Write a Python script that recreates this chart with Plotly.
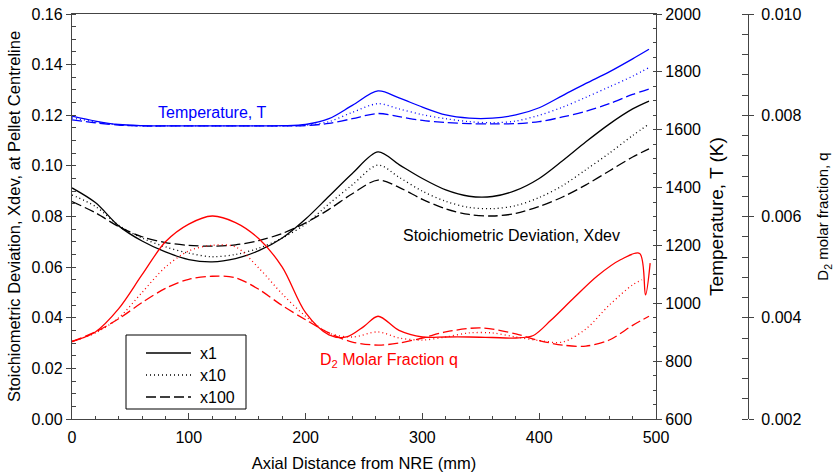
import plotly.graph_objects as go

# ---------------- data ----------------
# Temperature (K), right axis
t_x = [0, 20, 40, 60, 80, 100, 120, 140, 160, 180, 200, 220, 240, 262, 280, 300, 320, 340, 360, 380, 400, 420, 440, 460, 480, 494]
t_x1 = [1647, 1630, 1618, 1614, 1613, 1613, 1613, 1613, 1613, 1614, 1618, 1638, 1684, 1734, 1710, 1678, 1651, 1640, 1640, 1651, 1676, 1718, 1760, 1800, 1845, 1878]
t_x10 = [1641, 1627, 1617, 1613, 1613, 1613, 1613, 1613, 1613, 1613, 1615, 1628, 1660, 1690, 1672, 1652, 1638, 1628, 1624, 1630, 1650, 1678, 1712, 1748, 1785, 1815]
t_x100 = [1634, 1624, 1616, 1613, 1613, 1613, 1613, 1613, 1613, 1613, 1614, 1622, 1638, 1656, 1645, 1632, 1625, 1621, 1620, 1621, 1628, 1644, 1664, 1690, 1722, 1741]

# Stoichiometric deviation, left axis
xd_x = [0, 20, 40, 60, 80, 100, 120, 140, 160, 180, 200, 220, 240, 262, 280, 300, 320, 340, 360, 380, 400, 420, 440, 460, 480, 494]
xd_x1 = [0.0913, 0.0855, 0.0763, 0.0703, 0.0660, 0.0630, 0.0621, 0.0634, 0.0665, 0.0715, 0.0790, 0.0880, 0.0970, 0.1055, 0.1005, 0.0950, 0.0905, 0.0880, 0.0879, 0.0903, 0.0950, 0.1020, 0.1095, 0.1165, 0.1225, 0.1256]
xd_x10 = [0.0885, 0.0840, 0.0765, 0.0715, 0.0680, 0.0655, 0.0641, 0.0650, 0.0675, 0.0715, 0.0770, 0.0850, 0.0925, 0.1003, 0.0955, 0.0900, 0.0860, 0.0836, 0.0831, 0.0843, 0.0875, 0.0922, 0.0985, 0.1050, 0.1120, 0.1165]
xd_x100 = [0.0859, 0.0815, 0.0760, 0.0720, 0.0697, 0.0686, 0.0683, 0.0688, 0.0705, 0.0733, 0.0775, 0.0828, 0.0890, 0.0944, 0.0915, 0.0868, 0.0830, 0.0808, 0.0802, 0.0812, 0.0840, 0.0877, 0.0925, 0.0980, 0.1035, 0.1067]

# D2 molar fraction, third axis
q1_x = [0, 20, 40, 60, 80, 100, 120, 140, 160, 180, 200, 220, 235, 250, 262, 280, 300, 320, 340, 360, 380, 395, 410, 430, 450, 470, 486, 491, 495]
q1 = [0.00353, 0.00372, 0.00418, 0.00485, 0.00550, 0.00585, 0.00601, 0.00588, 0.00556, 0.00500, 0.00410, 0.00366, 0.00362, 0.00383, 0.00403, 0.00375, 0.00362, 0.00362, 0.00362, 0.00361, 0.00360, 0.00365, 0.00395, 0.00440, 0.00483, 0.00515, 0.00527, 0.00445, 0.00508]
q10_x = [0, 20, 40, 60, 80, 100, 120, 140, 160, 180, 200, 220, 240, 262, 280, 300, 320, 340, 360, 380, 400, 420, 440, 460, 480, 488]
q10 = [0.00353, 0.00370, 0.00400, 0.00450, 0.00500, 0.00532, 0.00543, 0.00540, 0.00498, 0.00447, 0.00403, 0.00370, 0.00362, 0.00372, 0.00360, 0.00356, 0.00362, 0.00370, 0.00370, 0.00362, 0.00355, 0.00352, 0.00378, 0.00425, 0.00465, 0.00475]
q100_x = [0, 20, 40, 60, 80, 100, 120, 140, 160, 180, 200, 220, 240, 262, 280, 300, 320, 350, 380, 400, 420, 440, 460, 480, 494]
q100 = [0.00353, 0.00372, 0.00398, 0.00430, 0.00458, 0.00476, 0.00482, 0.00479, 0.00456, 0.00424, 0.00396, 0.00370, 0.00352, 0.00346, 0.00350, 0.00360, 0.00372, 0.00380, 0.00368, 0.00355, 0.00346, 0.00344, 0.00356, 0.00385, 0.00403]

legend_names = ["x1", "x10", "x100"]

# ---------------- styles ----------------
DASHES = ["solid", "1px,3px", "10px,4px"]
FONT = "Liberation Sans, Arial, Helvetica, sans-serif"
LW = 1.3

fig = go.Figure()

def add(xs, ys, color, dash, yaxis):
    fig.add_trace(go.Scatter(x=xs, y=ys, mode="lines", yaxis=yaxis, showlegend=False,
                             line=dict(color=color, width=LW, dash=dash, shape="spline", smoothing=0.9),
                             hoverinfo="skip"))

for ys, d in zip([t_x1, t_x10, t_x100], DASHES):
    add(t_x, ys, "#0000ff", d, "y2")
for ys, d in zip([xd_x1, xd_x10, xd_x100], DASHES):
    add(xd_x, ys, "#000000", d, "y")
for xs, ys, d in zip([q1_x, q10_x, q100_x], [q1, q10, q100], DASHES):
    add(xs, ys, "#ff0000", d, "y3")

AX = "#444444"
L, R, T, B = 72, 87, 14, 53
W, H = 835, 472
plot_w = W - L - R
plot_h = H - T - B
xdom_end = 584 / plot_w

def px(xpix):
    return (xpix - L) / plot_w

def py(ypix):
    return (H - B - ypix) / plot_h

# legend box (drawn as a keyed box in paper space)
shapes = [dict(type="rect", xref="paper", yref="paper", x0=px(126), x1=px(246), y0=py(409), y1=py(335),
               line=dict(color="black", width=1), fillcolor="white", layer="above")]
annotations = []
for i, (name, d) in enumerate(zip(legend_names, DASHES)):
    yy = py(353 + 22 * i)
    shapes.append(dict(type="line", xref="paper", yref="paper", x0=px(146), x1=px(191), y0=yy, y1=yy,
                       line=dict(color="black", width=LW, dash=d), layer="above"))
    annotations.append(dict(text=name, x=px(198), y=yy, xref="paper", yref="paper", xanchor="left",
                            yanchor="middle", showarrow=False, font=dict(size=16, color="black")))

annotations += [
    dict(text="Temperature, T", x=120, y=0.1209, xref="x", yref="y", showarrow=False,
         font=dict(color="#0000ff", size=16)),
    dict(text="Stoichiometric Deviation, Xdev", x=376, y=0.0723, xref="x", yref="y", showarrow=False,
         font=dict(color="black", size=16)),
    dict(text="D<sub>2</sub> Molar Fraction q", x=271, y=0.0233, xref="x", yref="y", showarrow=False,
         font=dict(color="#ff0000", size=16)),
]

fig.update_layout(
    width=W, height=H,
    margin=dict(l=L, r=R, t=T, b=B),
    paper_bgcolor="white", plot_bgcolor="white",
    font=dict(family=FONT, size=16, color="black"),
    showlegend=False,
    xaxis=dict(domain=[0, xdom_end], range=[0, 500], dtick=100, tick0=0,
               showline=True, linecolor=AX, linewidth=1.3, mirror=True,
               ticks="inside", ticklen=6, tickcolor=AX, tickwidth=1,
               minor=dict(dtick=20, ticks="inside", ticklen=3, tickcolor=AX, tickwidth=1),
               showgrid=False, zeroline=False, automargin=False,
               tickfont=dict(size=16), ticklabelstandoff=4,
               title=dict(text="Axial Distance from NRE (mm)", font=dict(size=16.5), standoff=13)),
    yaxis=dict(range=[0, 0.16], dtick=0.02, tick0=0, tickformat=".2f",
               showline=True, linecolor=AX, linewidth=1.3,
               ticks="outside", ticklen=5, tickcolor=AX, tickwidth=1,
               minor=dict(dtick=0.005, ticks="inside", ticklen=4, tickcolor=AX, tickwidth=1),
               showgrid=False, zeroline=False, automargin=False,
               tickfont=dict(size=16),
               title=dict(text="Stoichiometric Deviation, Xdev, at Pellet Centreline",
                          font=dict(size=16.5), standoff=6)),
    yaxis2=dict(range=[600, 2000], dtick=200, tick0=600, overlaying="y", side="right", anchor="x",
                showline=True, linecolor=AX, linewidth=1.3,
                ticks="outside", ticklen=5, tickcolor=AX, tickwidth=1,
                minor=dict(dtick=50, ticks="inside", ticklen=3, tickcolor=AX, tickwidth=1),
                showgrid=False, zeroline=False, automargin=False,
                tickfont=dict(size=16),
                title=dict(text="Temperature, T (K)", font=dict(size=19), standoff=9)),
    yaxis3=dict(range=[0.002, 0.010], dtick=0.002, tick0=0.002, tickformat=".3f",
                overlaying="y", side="right", anchor="free", position=1.0,
                showline=True, linecolor=AX, linewidth=1.3,
                ticks="outside", ticklen=5, tickcolor=AX, tickwidth=1,
                minor=dict(dtick=0.0004, ticks="inside", ticklen=6, tickcolor=AX, tickwidth=1),
                showgrid=False, zeroline=False, automargin=False,
                tickfont=dict(size=16), ticklabelstandoff=4,
                title=dict(text="D<sub>2</sub> molar fraction, q", font=dict(size=15), standoff=17)),
    shapes=shapes,
    annotations=annotations,
)

fig.write_html("out.html")
